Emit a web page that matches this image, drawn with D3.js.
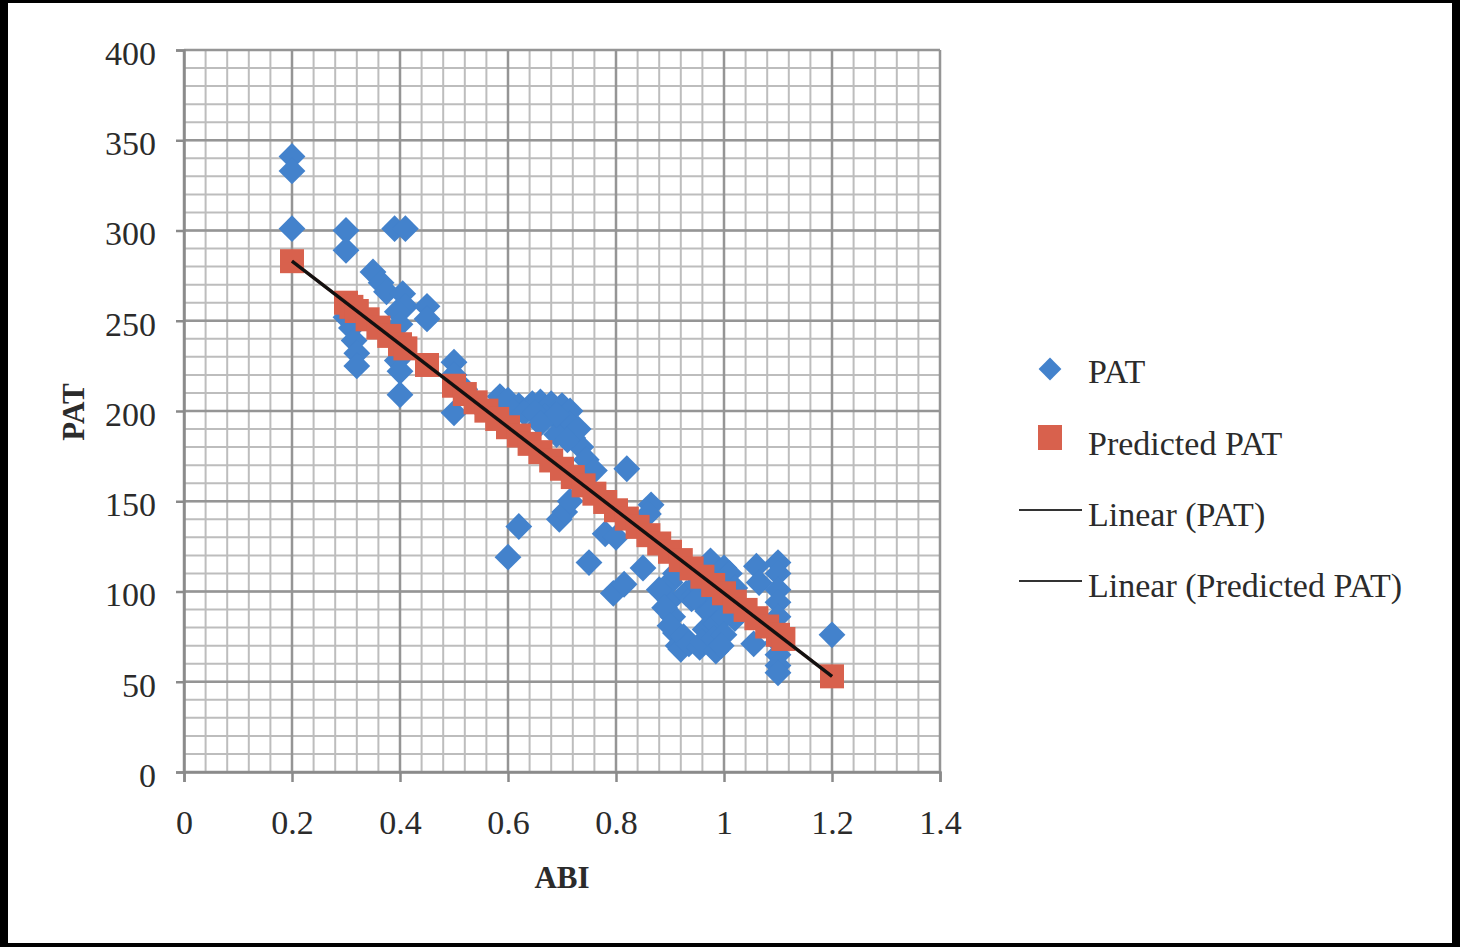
<!DOCTYPE html>
<html>
<head>
<meta charset="utf-8">
<script src="https://cdn.jsdelivr.net/npm/d3@7"></script>
<style>
  body { margin: 0; background: #fff; }
  svg text { font-family: "Liberation Serif", "Times New Roman", serif; fill: #2b2b2b; }
</style>
</head>
<body>
<div id="container"></div>
<script>
/* CONSTANTS AND GLOBALS */
const width = 1460,
  height = 947,
  margin = { top: 50, bottom: 175, left: 184, right: 520 };

/* DATA */
const patABI = [
  0.2, 0.2, 0.2,
  0.3, 0.3, 0.3, 0.31, 0.315, 0.32, 0.32,
  0.35, 0.365, 0.375, 0.39, 0.41,
  0.405, 0.41, 0.395, 0.4, 0.45, 0.45,
  0.395, 0.4, 0.4,
  0.5, 0.5, 0.5, 0.52, 0.54,
  0.585, 0.6, 0.62, 0.645, 0.66, 0.68, 0.7, 0.715, 0.67, 0.7, 0.715, 0.69, 0.72, 0.735, 0.745, 0.76, 0.82,
  0.61, 0.63, 0.65, 0.69, 0.66, 0.73, 0.71,
  0.6, 0.62, 0.695, 0.705, 0.715, 0.75, 0.78, 0.8, 0.795, 0.815, 0.85, 0.865, 0.86,
  0.9, 0.9, 0.905, 0.91, 0.915, 0.93, 0.94, 0.92,
  0.88, 0.89, 0.9, 0.925, 0.935, 0.95, 0.955, 0.95, 0.97, 0.99, 1.01, 1.02, 0.91,
  0.96, 0.97, 0.965, 0.96, 0.975, 0.985, 0.98, 0.98, 0.985, 0.98, 0.985, 1.0, 1.0, 1.0, 1.0, 1.0, 0.995, 1.01, 1.02,
  1.06, 1.065, 1.055, 1.1, 1.1, 1.1, 1.1, 1.1, 1.1, 1.1, 1.1, 1.1, 1.1, 1.2
];
const patValues = [
  341, 333, 301,
  300, 289, 252, 246, 239, 232, 225,
  277, 271, 266, 301, 301,
  265, 258, 255, 248, 258, 251,
  228, 222, 209,
  227, 220, 199, 212, 205,
  208, 206, 203, 204, 205, 204, 203, 200, 197, 193, 193, 187, 185, 180, 173, 167, 168,
  200, 199, 199, 198, 193, 190, 184,
  119, 136, 140, 144, 150, 116, 132, 130, 99, 104, 113, 148, 143,
  105, 95, 86, 77, 70, 99, 96, 68,
  101, 91, 81, 75, 71, 104, 69, 96, 89, 95, 92, 85, 110,
  112, 104, 79, 72, 117, 108, 100, 91, 82, 74, 67, 113, 104, 96, 86, 76, 70, 110, 102,
  114, 105, 71, 116, 110, 101, 94, 86, 79, 72, 65, 59, 55, 76
];

const predABI = [
  0.2, 0.3, 0.31, 0.32, 0.34, 0.36, 0.38, 0.4, 0.41, 0.45,
  0.5, 0.52, 0.54, 0.56, 0.58, 0.6, 0.62, 0.64, 0.66, 0.68,
  0.7, 0.72, 0.74, 0.76, 0.78, 0.8, 0.82, 0.84, 0.86, 0.88,
  0.9, 0.92, 0.94, 0.96, 0.98, 1.0, 1.02, 1.04, 1.06, 1.08,
  1.1, 1.11, 1.2
];
const predValues = [
  283, 260, 257.7, 255.4, 250.8, 246.2, 241.6, 237, 234.7, 225.5,
  214, 209.4, 204.8, 200.2, 195.6, 191, 186.4, 181.8, 177.2, 172.6,
  168, 163.4, 158.8, 154.2, 149.6, 145, 140.4, 135.8, 131.2, 126.6,
  122, 117.4, 112.8, 108.2, 103.6, 99, 94.4, 89.8, 85.2, 80.6,
  76, 73.7, 53
];

// trend lines (endpoints)
const trendABI = [0.2, 1.2];
const trendPAT = [283, 53];
const trendPred = [283, 53];

const xTicks = [0, 0.2, 0.4, 0.6, 0.8, 1, 1.2, 1.4];
const yTicks = [0, 50, 100, 150, 200, 250, 300, 350, 400];
const legendLabels = ["PAT", "Predicted PAT", "Linear (PAT)", "Linear (Predicted PAT)"];

const blue = "#4382cc",
  red = "#d8614d";

/* SCALES */
const xScale = d3.scaleLinear()
  .domain([0, 1.4])
  .range([margin.left, width - margin.right]);

const yScale = d3.scaleLinear()
  .domain([0, 400])
  .range([height - margin.bottom, margin.top]);

/* SVG */
const svg = d3.select("#container")
  .append("svg")
  .attr("width", width)
  .attr("height", height);

// black frame around the picture
svg.append("rect")
  .attr("x", 0).attr("y", 0)
  .attr("width", width).attr("height", height)
  .attr("fill", "#000");
svg.append("rect")
  .attr("x", 8).attr("y", 3)
  .attr("width", width - 16).attr("height", height - 7)
  .attr("fill", "#fff");

// GRID
const minorX = d3.range(0, 36).map(i => i * 0.04);
const minorY = d3.range(0, 41).map(i => i * 10);

const grid = svg.append("g");
grid.selectAll(".vminor")
  .data(minorX)
  .join("line")
  .attr("x1", d => xScale(d)).attr("x2", d => xScale(d))
  .attr("y1", yScale(0)).attr("y2", yScale(400))
  .attr("stroke", "#bdbdbd")
  .attr("stroke-width", 2);
grid.selectAll(".hminor")
  .data(minorY)
  .join("line")
  .attr("y1", d => yScale(d)).attr("y2", d => yScale(d))
  .attr("x1", xScale(0)).attr("x2", xScale(1.4))
  .attr("stroke", "#bdbdbd")
  .attr("stroke-width", 2);
grid.selectAll(".vmajor")
  .data(xTicks)
  .join("line")
  .attr("x1", d => xScale(d)).attr("x2", d => xScale(d))
  .attr("y1", yScale(0)).attr("y2", yScale(400))
  .attr("stroke", "#959595")
  .attr("stroke-width", 2.5);
grid.selectAll(".hmajor")
  .data(yTicks)
  .join("line")
  .attr("y1", d => yScale(d)).attr("y2", d => yScale(d))
  .attr("x1", xScale(0)).attr("x2", xScale(1.4))
  .attr("stroke", "#959595")
  .attr("stroke-width", 2.5);

// AXES
const xAxis = d3.axisBottom(xScale)
  .tickValues(xTicks)
  .tickSize(10)
  .tickPadding(28)
  .tickFormat(d => d);
const yAxis = d3.axisLeft(yScale)
  .tickValues(yTicks)
  .tickSize(8)
  .tickPadding(20)
  .tickFormat(d => d);

const gx = svg.append("g")
  .attr("transform", `translate(0, ${yScale(0)})`)
  .call(xAxis);
const gy = svg.append("g")
  .attr("transform", `translate(${xScale(0)}, 0)`)
  .call(yAxis);

[gx, gy].forEach(g => {
  g.select(".domain").attr("stroke", "#8a8a8a").attr("stroke-width", 2.5);
  g.selectAll(".tick line").attr("stroke", "#8a8a8a").attr("stroke-width", 2.5);
  g.selectAll(".tick text")
    .attr("font-size", 34)
    .attr("font-family", "Liberation Serif, serif")
    .attr("fill", "#333");
});
gy.selectAll(".tick text").attr("dy", "0.42em");

// axis titles
svg.append("text")
  .attr("x", 562)
  .attr("y", 888)
  .attr("text-anchor", "middle")
  .attr("font-size", 31)
  .attr("font-weight", "bold")
  .text("ABI");

svg.append("text")
  .attr("transform", "translate(84, 412) rotate(-90)")
  .attr("text-anchor", "middle")
  .attr("font-size", 31)
  .attr("font-weight", "bold")
  .text("PAT");

// SERIES
const patData = patABI.map((a, i) => ({ abi: a, pat: patValues[i] }));
const predData = predABI.map((a, i) => ({ abi: a, pat: predValues[i] }));

const diamond = d3.symbol().type(d3.symbolSquare).size(360);
const square = d3.symbol().type(d3.symbolSquare).size(576);

svg.append("g")
  .selectAll("path")
  .data(patData)
  .join("path")
  .attr("d", diamond)
  .attr("transform", d => `translate(${xScale(d.abi)}, ${yScale(d.pat)}) rotate(45)`)
  .attr("fill", blue);

svg.append("g")
  .selectAll("path")
  .data(predData)
  .join("path")
  .attr("d", square)
  .attr("transform", d => `translate(${xScale(d.abi)}, ${yScale(d.pat)})`)
  .attr("fill", red);

// TREND LINES
const line = d3.line()
  .x(d => xScale(d[0]))
  .y(d => yScale(d[1]));

svg.append("path")
  .attr("d", line(trendABI.map((a, i) => [a, trendPAT[i]])))
  .attr("stroke", "#2a1512")
  .attr("stroke-width", 3.5)
  .attr("fill", "none");
svg.append("path")
  .attr("d", line(trendABI.map((a, i) => [a, trendPred[i]])))
  .attr("stroke", "#111")
  .attr("stroke-width", 2.5)
  .attr("fill", "none");

// LEGEND
const legendY = [383, 455, 526, 597];
const legend = svg.append("g");

legend.append("path")
  .attr("d", d3.symbol().type(d3.symbolSquare).size(260))
  .attr("transform", `translate(1050, 369) rotate(45)`)
  .attr("fill", blue);
legend.append("rect")
  .attr("x", 1038).attr("y", 425)
  .attr("width", 24).attr("height", 25)
  .attr("fill", red);
legend.append("line")
  .attr("x1", 1019).attr("x2", 1082)
  .attr("y1", 510).attr("y2", 510)
  .attr("stroke", "#333").attr("stroke-width", 2);
legend.append("line")
  .attr("x1", 1019).attr("x2", 1082)
  .attr("y1", 581).attr("y2", 581)
  .attr("stroke", "#333").attr("stroke-width", 2);

legend.selectAll("text")
  .data(legendLabels)
  .join("text")
  .attr("x", 1088)
  .attr("y", (d, i) => legendY[i])
  .attr("font-size", 34)
  .text(d => d);
</script>
</body>
</html>
